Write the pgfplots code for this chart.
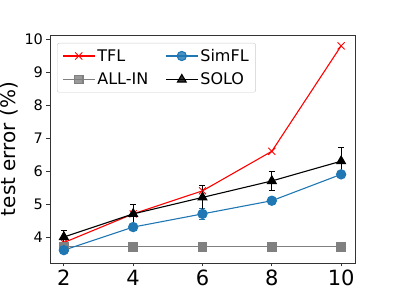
\documentclass[border=0pt]{standalone}
\usepackage{pgfplots}
\pgfplotsset{compat=1.18}
\usepackage{fontspec}
\setmainfont{DejaVu Sans}
\definecolor{mplblue}{HTML}{1F77B4}
\definecolor{mplgray}{HTML}{808080}
\definecolor{axgray}{HTML}{333333}
\begin{document}
\begin{tikzpicture}
\path[use as bounding box] (-50pt,-33pt) rectangle (344pt,263pt);
\begin{axis}[
  at={(0pt,0pt)}, anchor=south west,
  scale only axis, width=305pt, height=228pt,
  xmin=1.6, xmax=10.4, ymin=3.21, ymax=10.13,
  xtick={2,4,6,8,10}, ytick={4,5,6,7,8,9,10},
  tick align=outside, tick pos=left, major tick length=3.5pt,
  axis line style={axgray, line width=0.8pt},
  tick style={axgray, line width=0.8pt},
  yticklabel style={font=\fontsize{14.5}{16}\selectfont},
  xticklabel style={font=\fontsize{21}{24}\selectfont},
  /pgf/number format/assume math mode=true,
  ylabel={test error (\%)},
  ylabel style={font=\fontsize{20}{24}\selectfont},
  legend columns=2, transpose legend,
  legend cell align=left,
  legend image code/.code={
    \draw[mark repeat=2,mark phase=2] plot coordinates {(0pt,0pt) (16pt,0pt) (32pt,0pt)};
  },
  legend style={at={(0.023,0.965)}, anchor=north west,
    font=\fontsize{16}{18}\selectfont,
    draw=black!20, rounded corners=2pt, fill=white, fill opacity=0.8, text opacity=1,
    /tikz/every even column/.append style={column sep=15pt},
    row sep=6pt, inner xsep=5pt, inner ysep=4pt},
  every axis plot/.append style={line width=1.1pt},
]
\addplot[red, mark=x, mark size=5pt, mark options={line width=0.9pt}]
  coordinates {(2,3.83) (4,4.7) (6,5.4) (8,6.6) (10,9.8)};
\addlegendentry{TFL}
\addplot[mplgray, mark=square*, mark size=4.2pt]
  coordinates {(2,3.7) (4,3.7) (6,3.7) (8,3.7) (10,3.7)};
\addlegendentry{ALL-IN}
\addplot[mplblue, mark=*, mark size=4.6pt,
  error bars/.cd, y dir=both, y explicit,
  error bar style={line width=1pt},
  error mark options={rotate=90, mark size=3pt, line width=0.8pt, mplblue}]
  table[x=x, y=y, y error=e] {
  x y e
  2 3.6 0.08
  4 4.3 0.1
  6 4.7 0.17
  8 5.1 0.1
  10 5.9 0.1
  };
\addlegendentry{SimFL}
\addplot[black, mark=triangle*, mark size=5pt,
  error bars/.cd, y dir=both, y explicit,
  error bar style={line width=1pt},
  error mark options={rotate=90, mark size=3pt, line width=0.8pt, black}]
  table[x=x, y=y, y error=e] {
  x y e
  2 4.0 0.2
  4 4.7 0.3
  6 5.2 0.38
  8 5.7 0.3
  10 6.3 0.42
  };
\addlegendentry{SOLO}
\end{axis}
\end{tikzpicture}
\end{document}
